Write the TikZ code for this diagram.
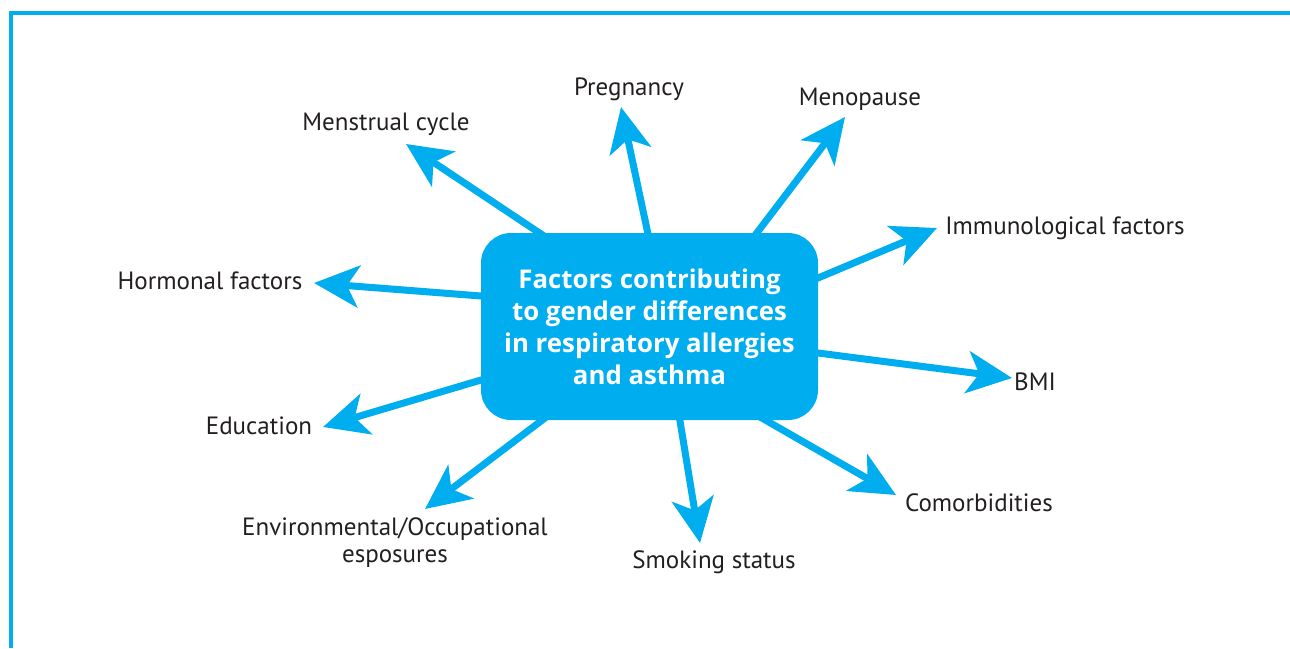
\documentclass[tikz,border=0pt]{standalone}
\usepackage{fontspec}
\setmainfont{PT Sans}
\newfontfamily\hubfont{Open Sans}
\usetikzlibrary{arrows.meta}
\definecolor{cyanb}{HTML}{00AEEF}
\definecolor{txt}{HTML}{231F20}
\pgfdeclarelayer{bg}
\pgfsetlayers{bg,main}
\tikzset{
  arr/.style={draw=cyanb, line width=3.5pt, shorten <=-8pt,
    -{Stealth[length=22.5pt, width=21pt, inset=6pt]}},
  lbl/.style={anchor=base, text=txt, font=\fontsize{12.5}{13.5}\selectfont, inner sep=0pt},
  hub/.style={fill=cyanb, rounded corners=15pt, minimum width=168.5pt, minimum height=93.5pt,
    text=white, align=center, font=\hubfont\bfseries\fontsize{12.9}{16}\selectfont, inner sep=0pt},
  frame/.style={draw=cyanb, line width=2pt}
}
\begin{document}
\begin{tikzpicture}[x=0.5pt,y=-0.5pt]
\useasboundingbox (0,0) rectangle (1290,648);
\draw[frame] (11,648) -- (11,13) -- (1290,13);
\node[hub] (hub) at (649.5,326.5) {Factors contributing\\to gender differences\\in respiratory allergies\\and asthma};
% labels
\node[lbl] (l1) at (386,130) {Menstrual cycle};
\node[lbl] (l2) at (629,95) {Pregnancy};
\node[lbl] (l3) at (860,105) {Menopause};
\node[lbl] (l4) at (1065,234) {Immunological factors};
\node[lbl] (l5) at (1035,390) {BMI};
\node[lbl] (l6) at (979,511) {Comorbidities};
\node[lbl] (l7) at (714,568) {Smoking status};
\node[lbl] (l8) at (395,535) {Environmental/Occupational};
\node[lbl] (l8b) at (395,562) {esposures};
\node[lbl] (l9) at (259,434) {Education};
\node[lbl] (l10) at (210,289) {Hormonal factors};
% arrow ends
\coordinate (s1) at (541,234);  \coordinate (t1) at (406,144);
\coordinate (s2) at (648,234);  \coordinate (t2) at (621,107);
\coordinate (s3) at (756,234);  \coordinate (t3) at (845,117);
\coordinate (s4) at (818,278);  \coordinate (t4) at (937,228);
\coordinate (s5) at (818,353);  \coordinate (t5) at (1012,378);
\coordinate (s6) at (767,421);  \coordinate (t6) at (896,495);
\coordinate (s7) at (680,421);  \coordinate (t7) at (700,543);
\coordinate (s8) at (541,421);  \coordinate (t8) at (425,509);
\coordinate (s9) at (481,380);  \coordinate (t9) at (323,427);
\coordinate (s10) at (481,296); \coordinate (t10) at (314,283);
\begin{pgfonlayer}{bg}
\foreach \i in {1,...,10} {\draw[arr] (s\i) -- (t\i);}
\end{pgfonlayer}
\end{tikzpicture}
\end{document}
